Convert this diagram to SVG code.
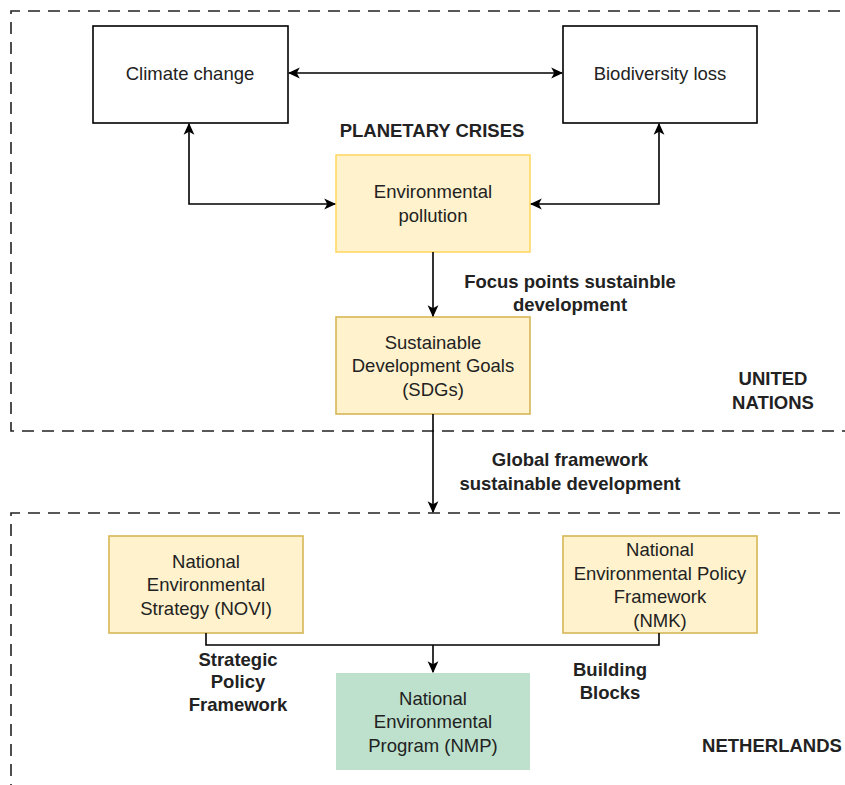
<svg xmlns="http://www.w3.org/2000/svg" width="845" height="785" viewBox="0 0 845 785">
<style>
  text { font-family: "Liberation Sans", Arial, sans-serif; font-size: 18.5px; fill: #222; text-anchor: middle; }
  .b { font-weight: bold; }
  .box { fill: #ffffff; stroke: #000000; stroke-width: 1.6; }
  .yel { fill: #fff2cc; stroke: #d6b656; stroke-width: 1.6; }
  .yel2 { fill: #fff2cc; stroke: #ffd966; stroke-width: 1.6; }
  .grn { fill: #bde1cc; stroke: none; }
  .dash { fill: none; stroke: #222; stroke-width: 1.6; stroke-dasharray: 12 8; }
  .edge { fill: none; stroke: #000; stroke-width: 1.6; }
</style>
<defs>
  <marker id="ah" viewBox="0 0 10 10" refX="9" refY="5" markerWidth="12" markerHeight="12" markerUnits="userSpaceOnUse" orient="auto-start-reverse">
    <path d="M0,0.5 L10,5 L0,9.5 L2.5,5 Z" fill="#000"/>
  </marker>
</defs>
<rect width="845" height="785" fill="#ffffff"/>

<g id="un-container">
  <path class="dash" d="M860,11 H11 V431 H860"/>
  <text class="b" x="773" y="385">UNITED</text>
  <text class="b" x="773" y="409">NATIONS</text>
</g>
<g id="nl-container">
  <path class="dash" d="M860,513 H11 V800"/>
  <text class="b" x="772" y="752">NETHERLANDS</text>
</g>

<g id="climate">
  <rect class="box" x="93" y="26" width="195" height="97"/>
  <text x="190" y="80">Climate change</text>
</g>
<g id="biodiversity">
  <rect class="box" x="563" y="26" width="194" height="97"/>
  <text x="660" y="80">Biodiversity loss</text>
</g>
<g id="planetary-label">
  <text class="b" x="432" y="137">PLANETARY CRISES</text>
</g>
<g id="pollution">
  <rect class="yel2" x="336" y="155" width="194" height="97"/>
  <text x="433" y="198">Environmental</text>
  <text x="433" y="222">pollution</text>
</g>
<g id="sdgs">
  <rect class="yel" x="336" y="317" width="194" height="97"/>
  <text x="433" y="349">Sustainable</text>
  <text x="433" y="372">Development Goals</text>
  <text x="433" y="396">(SDGs)</text>
</g>
<g id="novi">
  <rect class="yel" x="109" y="536" width="194" height="97"/>
  <text x="206" y="568">National</text>
  <text x="206" y="591">Environmental</text>
  <text x="206" y="615">Strategy (NOVI)</text>
</g>
<g id="nmk">
  <rect class="yel" x="563" y="536" width="194" height="97"/>
  <text x="660" y="556">National</text>
  <text x="660" y="580">Environmental Policy</text>
  <text x="660" y="603">Framework</text>
  <text x="660" y="627">(NMK)</text>
</g>
<g id="nmp">
  <rect class="grn" x="336" y="673" width="194" height="97"/>
  <text x="433" y="705">National</text>
  <text x="433" y="728">Environmental</text>
  <text x="433" y="752">Program (NMP)</text>
</g>

<g id="connectors">
  <path class="edge" d="M289,73 H562" marker-start="url(#ah)" marker-end="url(#ah)"/>
  <path class="edge" d="M189,124 V204 H335" marker-start="url(#ah)" marker-end="url(#ah)"/>
  <path class="edge" d="M659,124 V204 H531" marker-start="url(#ah)" marker-end="url(#ah)"/>
  <path class="edge" d="M433,252 V316" marker-end="url(#ah)"/>
  <path class="edge" d="M433,414 V512" marker-end="url(#ah)"/>
  <path class="edge" d="M206,633 V645 H659 V633"/>
  <path class="edge" d="M433,645 V672" marker-end="url(#ah)"/>
  <text class="b" x="570" y="288">Focus points sustainble</text>
  <text class="b" x="570" y="311">development</text>
  <text class="b" x="570" y="466">Global framework</text>
  <text class="b" x="570" y="490">sustainable development</text>
  <text class="b" x="238" y="666">Strategic</text>
  <text class="b" x="238" y="688">Policy</text>
  <text class="b" x="238" y="711">Framework</text>
  <text class="b" x="610" y="676">Building</text>
  <text class="b" x="610" y="699">Blocks</text>
</g>
</svg>
